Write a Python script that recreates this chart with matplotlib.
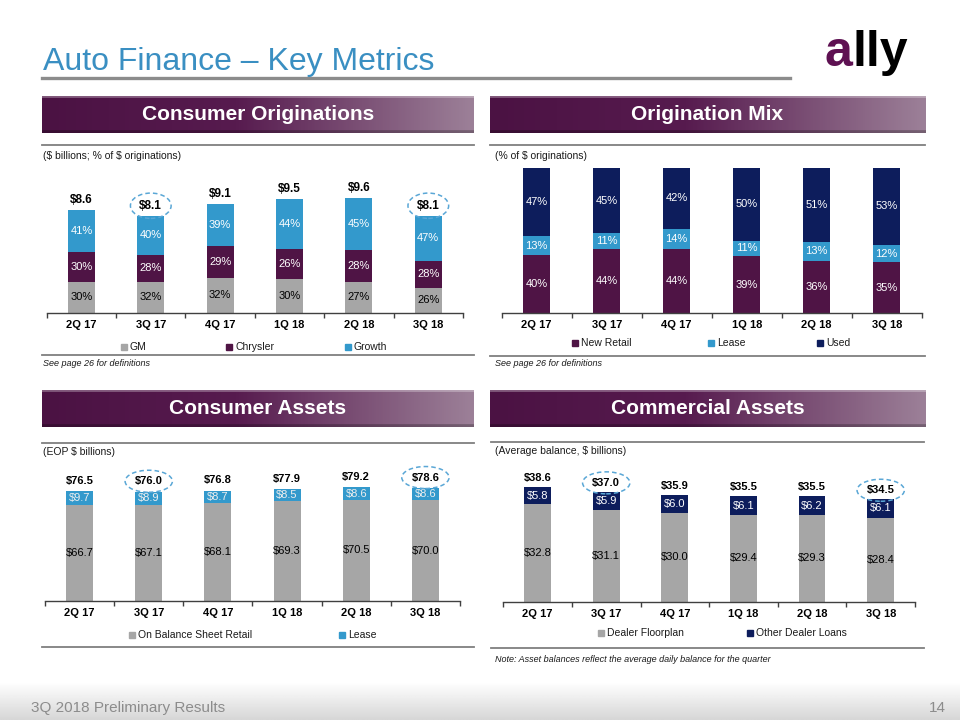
import numpy as np
import matplotlib.pyplot as plt
from matplotlib.patches import Rectangle
from matplotlib.lines import Line2D
from matplotlib.colors import LinearSegmentedColormap

plt.rcParams['font.family'] = ['Liberation Sans', 'DejaVu Sans']
plt.rcParams['text.parse_math'] = False

W, H = 960, 720

quarters = ['2Q 17', '3Q 17', '4Q 17', '1Q 18', '2Q 18', '3Q 18']

# Consumer originations ($ billions) and split (% of $ originations)
orig_total = [8.6, 8.1, 9.1, 9.5, 9.6, 8.1]
orig_gm = [30, 32, 32, 30, 27, 26]
orig_chrysler = [30, 28, 29, 26, 28, 28]
orig_growth = [41, 40, 39, 44, 45, 47]

# Origination mix (% of $ originations)
mix_new_retail = [40, 44, 44, 39, 36, 35]
mix_lease = [13, 11, 14, 11, 13, 12]
mix_used = [47, 45, 42, 50, 51, 53]

# Consumer assets (EOP $ billions)
ca_total = [76.5, 76.0, 76.8, 77.9, 79.2, 78.6]
ca_retail = [66.7, 67.1, 68.1, 69.3, 70.5, 70.0]
ca_lease = [9.7, 8.9, 8.7, 8.5, 8.6, 8.6]

# Commercial assets (average balance, $ billions)
cm_total = [38.6, 37.0, 35.9, 35.5, 35.5, 34.5]
cm_floorplan = [32.8, 31.1, 30.0, 29.4, 29.3, 28.4]
cm_other = [5.8, 5.9, 6.0, 6.1, 6.2, 6.1]

# quarters with the dashed circle round the total
circled = [1, 5]

GRAY = '#a6a6a6'
PURPLE = '#4f1445'
BLUE = '#3399cc'
NAVY = '#0d1d5c'
LINE = '#7f7f7f'
AXIS = '#404040'


def rect(x0, y0, x1, y1):
    # pixel box (top-left origin) -> figure fraction
    return [x0 / W, 1 - y1 / H, (x1 - x0) / W, (y1 - y0) / H]


def hline(x0, x1, y, color=LINE, lw=1.3):
    fig.add_artist(Line2D([x0 / W, x1 / W], [1 - y / H] * 2, color=color, lw=lw))


def header(x0, y0, x1, y1, text):
    ax = fig.add_axes(rect(x0, y0, x1, y1))
    cmap = LinearSegmentedColormap.from_list(
        'hdr', [(0, '#4b1243'), (0.45, '#571b4f'), (1, '#9c8098')])
    row = cmap(np.linspace(0, 1, 200))[:, :3]
    img = np.repeat(row[None, :, :], 40, axis=0)
    # small bevel: lighter top edge, darker bottom edge
    img[:2] = img[:2] * 0.7 + 0.3
    img[-3:] = img[-3:] * 0.75
    ax.imshow(img, aspect='auto', extent=[0, 1, 0, 1])
    ax.text(0.5, 0.5, text, color='white', fontsize=15, fontweight='bold',
            ha='center', va='center', transform=ax.transAxes)
    ax.axis('off')


def legend_entry(x, y, color, label):
    fig.patches.append(Rectangle(((x - 3) / W, 1 - (y + 3) / H), 6 / W, 6 / H,
                                 color=color, transform=fig.transFigure))
    fig.text((x + 6) / W, 1 - y / H, label, fontsize=7.5, va='center', color='#1a1a1a')


def style_axis(ax, ymax):
    ax.set_xlim(-0.5, 5.5)
    ax.set_ylim(0, ymax)
    for s in ['top', 'left', 'right']:
        ax.spines[s].set_visible(False)
    ax.spines['bottom'].set_color(AXIS)
    ax.spines['bottom'].set_linewidth(1)
    ax.set_yticks([])
    ax.set_xticks(range(len(quarters)), quarters, fontsize=8, fontweight='bold')
    ax.set_xticks(np.arange(-0.5, len(quarters), 1), minor=True)
    ax.tick_params(axis='x', which='major', length=0, pad=5)
    ax.tick_params(axis='x', which='minor', length=3.5, width=1, color=AXIS, direction='out')
    ax.patch.set_alpha(0)


def circle_totals(texts):
    for i in circled:
        texts[i].set_bbox(dict(boxstyle='ellipse,pad=0.25', fc='none', ec='#5aa7d6',
                               ls=(0, (3, 2)), lw=1.1))


def stacked(ax, segments, colors, labels, label_colors, fs):
    x = np.arange(len(quarters))
    bottom = np.zeros(len(quarters))
    bars = None
    for seg, c, lab, lc in zip(segments, colors, labels, label_colors):
        bars = ax.bar(x, seg, 0.39, bottom=bottom, color=c)
        ax.bar_label(bars, labels=lab, label_type='center', color=lc, fontsize=fs)
        bottom = bottom + np.asarray(seg)
    return bars


fig = plt.figure(figsize=(9.6, 7.2), dpi=100)

# footer band
ax_f = fig.add_axes(rect(0, 682, 960, 720))
grad = np.linspace(1.0, 0.84, 50)[:, None] * np.ones((1, 10))
ax_f.imshow(grad, cmap='gray', vmin=0, vmax=1, aspect='auto', extent=[0, 1, 0, 1])
ax_f.axis('off')
fig.text(31 / W, 1 - 708 / H, '3Q 2018 Preliminary Results', fontsize=11,
         color='#8c8c8c', va='center')
fig.text(946 / W, 1 - 708 / H, '14', fontsize=11, color='#8c8c8c', va='center', ha='right')

# title and logo
fig.text(43 / W, 1 - 70 / H, 'Auto Finance – Key Metrics', fontsize=23,
         color='#3a8fc2', va='baseline')
hline(42, 790, 77.5, color='#8c8c8c', lw=2.4)
logo_a = fig.text(825 / W, 1 - 66 / H, 'a', fontsize=36, fontweight='bold',
                  color='#5e1152', va='baseline')
fig.add_artist(plt.Annotation('lly', xy=(1, 0), xycoords=logo_a, fontsize=36,
                              fontweight='bold', color='black', va='bottom'))

# section headers
header(42, 96, 474, 133, 'Consumer Originations')
header(490, 96, 925, 133, 'Origination Mix')
header(42, 390, 474, 427, 'Consumer Assets')
header(490, 390, 925, 427, 'Commercial Assets')

# ---- Consumer Originations ----
hline(42, 474, 145)
hline(42, 474, 355)
fig.text(43 / W, 1 - 156 / H, '($ billions; % of $ originations)', fontsize=7.5,
         va='center', color='#1a1a1a')
fig.text(43 / W, 1 - 363 / H, 'See page 26 for definitions', fontsize=6.5,
         style='italic', va='center', color='#1a1a1a')
ax1 = fig.add_axes(rect(46.7, 165, 463, 312.7))
style_axis(ax1, 12.36)
tot = np.array(orig_total)
pct = np.array([orig_gm, orig_chrysler, orig_growth], dtype=float)
segs = tot * pct / pct.sum(axis=0)
top = stacked(ax1, segs, [GRAY, PURPLE, BLUE],
              [[f'{p}%' for p in row] for row in [orig_gm, orig_chrysler, orig_growth]],
              ['black', 'white', 'white'], 8)
t1 = ax1.bar_label(top, labels=[f'${v:.1f}' for v in orig_total], padding=3,
                   fontsize=8.5, fontweight='bold')
circle_totals(t1)
legend_entry(124, 346.7, GRAY, 'GM')
legend_entry(229, 346.7, PURPLE, 'Chrysler')
legend_entry(348, 346.7, BLUE, 'Growth')

# ---- Origination Mix ----
hline(490, 925, 145)
hline(490, 925, 356)
fig.text(495 / W, 1 - 156 / H, '(% of $ originations)', fontsize=7.5,
         va='center', color='#1a1a1a')
fig.text(495 / W, 1 - 363 / H, 'See page 26 for definitions', fontsize=6.5,
         style='italic', va='center', color='#1a1a1a')
ax2 = fig.add_axes(rect(501.7, 168, 921.7, 313))
style_axis(ax2, 100)
stacked(ax2, [mix_new_retail, mix_lease, mix_used], [PURPLE, BLUE, NAVY],
        [[f'{p}%' for p in row] for row in [mix_new_retail, mix_lease, mix_used]],
        ['white', 'white', 'white'], 8)
legend_entry(575, 343, PURPLE, 'New Retail')
legend_entry(711, 343, BLUE, 'Lease')
legend_entry(820, 343, NAVY, 'Used')

# ---- Consumer Assets ----
hline(42, 474, 442.7)
hline(42, 474, 646.7)
fig.text(43 / W, 1 - 452 / H, '(EOP $ billions)', fontsize=7.5,
         va='center', color='#1a1a1a')
ax3 = fig.add_axes(rect(45, 460, 460, 600.7))
style_axis(ax3, 98.2)
top = stacked(ax3, [ca_retail, ca_lease], [GRAY, BLUE],
              [[f'${v:.1f}' for v in ca_retail], [f'${v:.1f}' for v in ca_lease]],
              ['black', '#eeeeee'], 8)
t3 = ax3.bar_label(top, labels=[f'${v:.1f}' for v in ca_total], padding=4,
                   fontsize=8, fontweight='bold')
circle_totals(t3)
legend_entry(131.7, 635, GRAY, 'On Balance Sheet Retail')
legend_entry(341.7, 635, BLUE, 'Lease')

# ---- Commercial Assets ----
hline(491, 924, 442)
hline(491, 924, 647.7)
fig.text(495 / W, 1 - 451 / H, '(Average balance, $ billions)', fontsize=7.5,
         va='center', color='#1a1a1a')
fig.text(495 / W, 1 - 659 / H,
         'Note: Asset balances reflect the average daily balance for the quarter',
         fontsize=6.5, style='italic', va='center', color='#1a1a1a')
ax4 = fig.add_axes(rect(503.3, 460, 915, 601.7))
style_axis(ax4, 47.8)
top = stacked(ax4, [cm_floorplan, cm_other], [GRAY, NAVY],
              [[f'${v:.1f}' for v in cm_floorplan], [f'${v:.1f}' for v in cm_other]],
              ['black', 'white'], 8)
t4 = ax4.bar_label(top, labels=[f'${v:.1f}' for v in cm_total], padding=3,
                   fontsize=8, fontweight='bold')
circle_totals(t4)
legend_entry(600.7, 633.3, GRAY, 'Dealer Floorplan')
legend_entry(750, 633.3, NAVY, 'Other Dealer Loans')

fig.savefig('out.png', dpi=100)
